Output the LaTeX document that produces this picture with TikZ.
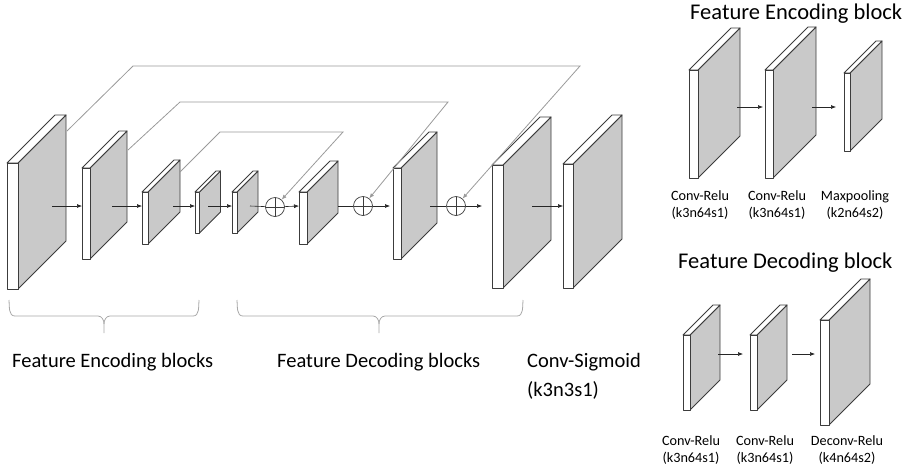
\documentclass[tikz,border=0pt]{standalone}
\usepackage{fontspec}
\setmainfont{Carlito}
\usetikzlibrary{arrows.meta,calc}

\definecolor{facegray}{HTML}{C9C9C9}
\definecolor{edgegray}{HTML}{3C3C3C}
\definecolor{skipgray}{HTML}{9A9A9A}
\definecolor{bracegray}{HTML}{A8A8A8}

\tikzset{
  slabedge/.style={draw=edgegray, line width=0.9pt, line join=round},
  flow/.style={draw=black!85, line width=0.6pt, -{Latex[length=5pt,width=4pt]}},
  flowline/.style={draw=black!85, line width=0.6pt},
  skipline/.style={draw=skipgray, line width=0.8pt, -{Latex[length=5pt,width=4pt]}},
  sumnode/.style={circle, draw=edgegray, line width=0.7pt, minimum size=19pt, inner sep=0pt,
    path picture={\draw[edgegray, line width=0.5pt]
      (path picture bounding box.north) -- (path picture bounding box.south)
      (path picture bounding box.west) -- (path picture bounding box.east);}},
  brace/.style={draw=bracegray, line width=0.8pt},
  biglabel/.style={font=\fontsize{20.5}{24}\selectfont, anchor=west, inner sep=0pt},
  title/.style={font=\fontsize{22.5}{26}\selectfont, anchor=west, inner sep=0pt},
  smalllabel/.style={font=\fontsize{14.2}{16.2}\selectfont, align=center, inner sep=0pt},
}

% #1 name, #2 x, #3 top y, #4 front width, #5 height, #6 depth,
% #7 y of the data flow, #8 x where the outgoing flow starts
\newcommand\slab[8]{%
  \fill[facegray] (#2+#4,#3) -- ++(#6,-#6) -- ++(0,#5) -- (#2+#4,#3+#5) -- cycle;
  \draw[slabedge] (#2+#4,#3) -- ++(#6,-#6) -- ++(0,#5) -- (#2+#4,#3+#5);
  \filldraw[slabedge, fill=white] (#2,#3) -- ++(#6,-#6) -- ++(#4,0) -- (#2+#4,#3) -- cycle;
  \filldraw[slabedge, fill=white] (#2,#3) rectangle (#2+#4,#3+#5);
  \coordinate (#1-in) at (#2,#7);
  \coordinate (#1-out) at (#8,#7);
  \coordinate (#1-tb) at (#2+#4+#6,#3-#6);
}

\begin{document}
\begin{tikzpicture}[x=1pt, y=-1pt]
\useasboundingbox (0,0) rectangle (909,469);

% ---------- main network ----------
\slab{s1}{7}{163}{11}{126}{48}{206}{52}
\slab{s2}{82}{168}{8}{91}{37}{206}{112}
\slab{s3}{142}{192}{6}{52}{32}{206}{173}
\slab{s4}{195}{192}{4.5}{41}{21}{206}{208}
\slab{s5}{232}{192}{5}{41}{21}{206}{250}
\slab{s6}{299}{192}{8}{52}{31}{206}{338}
\slab{s7}{393}{168}{8}{91}{36}{206}{430}
\slab{s8}{492}{165}{11}{123}{48}{206}{532}
\slab{s9}{563}{164}{10}{124}{49}{206}{600}

\node[sumnode] (c1) at (275,207) {};
\node[sumnode] (c2) at (363,206) {};
\node[sumnode] (c3) at (456,206) {};

\draw[flow] (s1-out) -- (s2-in);
\draw[flow] (s2-out) -- (s3-in);
\draw[flow] (s3-out) -- (s4-in);
\draw[flow] (s4-out) -- (s5-in);
\draw[flowline] (s5-out) -- (c1);
\draw[flow] (c1) -- (s6-in);
\draw[flowline] (s6-out) -- (c2);
\draw[flow, shorten >=3pt] (c2) -- (s7-in);
\draw[flowline] (s7-out) -- (c3);
\draw[flow, shorten >=10pt] (c3) -- (s8-in);
\draw[flow] (s8-out) -- (s9-in);

% skip connections
\coordinate (k1a) at ($(s1-tb)+(1,16)$);
\coordinate (k1b) at (133,66);
\coordinate (k1c) at (580,66);
\coordinate (k2a) at ($(s2-tb)+(1,19)$);
\coordinate (k2b) at (180,102);
\coordinate (k2c) at (448,102);
\coordinate (k3a) at ($(s3-tb)+(0,12)$);
\coordinate (k3b) at (220,132);
\coordinate (k3c) at (343,132);
\draw[skipline] (k1a) -- (k1b) -- (k1c) -- (c3);
\draw[skipline] (k2a) -- (k2b) -- (k2c) -- (c2);
\draw[skipline] (k3a) -- (k3b) -- (k3c) -- (c1);

% braces
\draw[brace] (9,300) to[out=-85,in=180] (15,316) -- (98,316) to[out=0,in=90] (104,324) -- (104,333);
\draw[brace] (199,300) to[out=-95,in=0] (193,316) -- (110,316) to[out=180,in=90] (104,324);
\draw[brace] (237,300) to[out=-85,in=180] (243,316) -- (373,316) to[out=0,in=90] (379,324) -- (379,333);
\draw[brace] (523,300) to[out=-95,in=0] (517,316) -- (385,316) to[out=180,in=90] (379,324);

\node[biglabel] (encs) at (12,362) {Feature Encoding blocks};
\node[biglabel] (decs) at (277,362) {Feature Decoding blocks};
\node[biglabel] (sig1) at (527,362) {Conv-Sigmoid};
\node[biglabel] (sig2) at (527,390) {(k3n3s1)};

% ---------- feature encoding block ----------
\node[title] (enct) at (690,14) {Feature Encoding block};
\slab{ea}{689}{70}{9}{108}{42}{107}{737}
\slab{eb}{765}{70}{8}{108}{43}{107}{812}
\slab{ec}{844}{73}{6}{78}{32}{107}{880}
\draw[flow, shorten >=2pt] (ea-out) -- (eb-in);
\draw[flow, shorten >=8pt] (eb-out) -- (ec-in);
\node[smalllabel] (eal) at (700,205) {Conv-Relu\\(k3n64s1)};
\node[smalllabel] (ebl) at (777,205) {Conv-Relu\\(k3n64s1)};
\node[smalllabel] (ecl) at (855,205) {Maxpooling\\(k2n64s2)};

% ---------- feature decoding block ----------
\node[title] (dect) at (678,263) {Feature Decoding block};
\slab{da}{683}{335}{7}{75}{30}{354}{718}
\slab{db}{750}{335}{7}{75}{30}{354}{792}
\slab{dc}{820}{320}{9}{105}{41}{354}{860}
\draw[flow, shorten >=7pt] (da-out) -- (db-in);
\draw[flow, shorten >=5pt] (db-out) -- (dc-in);
\node[smalllabel] (dal) at (691,450) {Conv-Relu\\(k3n64s1)};
\node[smalllabel] (dbl) at (765,450) {Conv-Relu\\(k3n64s1)};
\node[smalllabel] (dcl) at (847,450) {Deconv-Relu\\(k4n64s2)};

\end{tikzpicture}
\end{document}
